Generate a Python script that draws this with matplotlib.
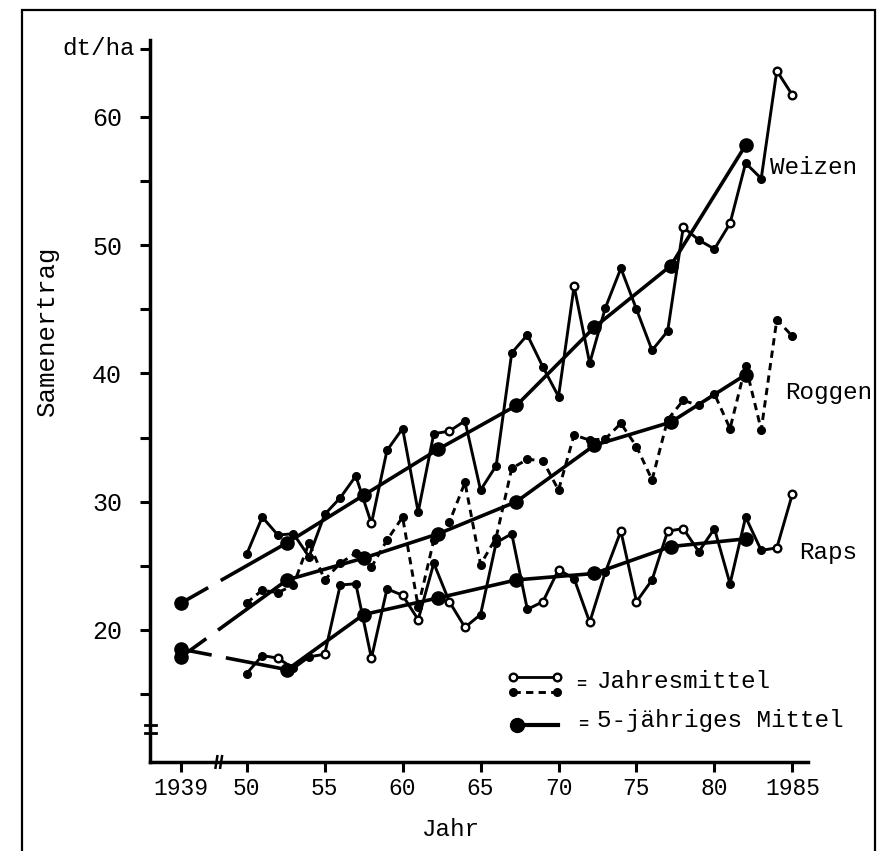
import numpy as np
import matplotlib
matplotlib.use("Agg")
import matplotlib.pyplot as plt
from matplotlib.patches import Rectangle

# yearly means (Jahresmittel), dt/ha
years = np.arange(1950, 1986)
weizen = [25.9, 28.8, 27.4, 27.5, 25.7, 29.0, 30.3, 32.0, 28.3, 34.0,
          35.7, 29.2, 35.3, 35.5, 36.3, 30.9, 32.8, 41.6, 43.0, 40.5,
          38.2, 46.8, 40.8, 45.1, 48.2, 45.0, 41.8, 43.3, 51.4, 50.4,
          49.7, 51.7, 56.4, 55.2, 63.6, 61.7]
roggen = [22.1, 23.1, 22.9, 23.5, 26.8, 23.9, 25.2, 26.0, 24.9, 27.0,
          28.8, 21.8, 27.0, 28.4, 31.5, 25.1, 27.2, 32.6, 33.3, 33.2,
          30.9, 35.2, 34.8, 34.9, 36.1, 34.3, 31.7, 36.4, 37.9, 37.5,
          38.4, 35.7, 40.6, 35.6, 44.2, 42.9]
raps = [16.6, 18.0, 17.8, 17.0, 17.9, 18.1, 23.5, 23.6, 17.8, 23.2,
        22.7, 20.8, 25.2, 22.2, 20.2, 21.2, 26.8, 27.5, 21.6, 22.2,
        24.7, 24.0, 20.6, 24.5, 27.7, 22.2, 23.9, 27.7, 27.9, 26.1,
        27.9, 23.6, 28.8, 26.2, 26.4, 30.6]

# 5-year means (5-jaehriges Mittel), as placed in the drawing
mean_years = [1939, 1952.6, 1957.5, 1962.3, 1967.3, 1972.3, 1977.2, 1982.0]
weizen_mean = [22.1, 26.8, 30.5, 34.1, 37.5, 43.6, 48.4, 57.8]
roggen_mean = [17.9, 23.9, 25.6, 27.5, 30.0, 34.4, 36.2, 39.9]
raps_mean = [18.5, 16.9, 21.2, 22.5, 23.9, 24.4, 26.5, 27.1]

# yearly points drawn as open circles
weizen_open = [1958, 1963, 1971, 1978, 1981, 1984, 1985]
raps_open = [1952, 1955, 1958, 1960, 1961, 1963, 1964, 1969, 1970, 1972,
             1974, 1975, 1977, 1978, 1984, 1985]

xtick_years = [1939, 1950, 1955, 1960, 1965, 1970, 1975, 1980, 1985]
xtick_labels = ["1939", "50", "55", "60", "65", "70", "75", "80", "1985"]
ytick_values = [15, 20, 25, 30, 35, 40, 45, 50, 55, 60, 65.3]
ytick_labels = ["", "20", "", "30", "", "40", "", "50", "", "60", ""]

X_1939 = 45.8   # 1939 sits left of the axis break


def xpos(y):
    y = np.asarray(y, dtype=float)
    return np.where(y < 1945, X_1939, y - 1900)


W, H = 881, 851


def fxy(px, py):
    return px / W, 1 - py / H


plt.rcParams['font.family'] = ['Liberation Mono', 'DejaVu Sans Mono']

fig = plt.figure(figsize=(W / 100, H / 100), dpi=100)
ax = fig.add_axes([150 / W, (H - 762) / H, 658 / W, 722 / H])
ax.set_xlim(43.8, 86.0)
ax.set_ylim(9.7, 66.0)

for s in ['top', 'right']:
    ax.spines[s].set_visible(False)
for s in ['left', 'bottom']:
    ax.spines[s].set_linewidth(2.5)

ax.set_xticks(xpos(xtick_years))
ax.set_xticklabels(xtick_labels)
ax.set_yticks(ytick_values)
ax.set_yticklabels(ytick_labels)
ax.tick_params(axis='x', direction='out', length=7, width=2.2, pad=4, labelsize=16.5)
ax.tick_params(axis='y', direction='out', length=7, width=2.2, pad=13, labelsize=18)

# axis breaks
for x0 in (48.0, 48.3):
    ax.plot([x0, x0 + 0.12], [-0.008, 0.008], transform=ax.get_xaxis_transform(),
            color='k', lw=1.8, clip_on=False)
for yb in (12.55, 11.95):
    ax.plot([-0.007, 0.009], [yb, yb], transform=ax.get_yaxis_transform(),
            color='k', lw=2, clip_on=False)

x = xpos(years)
dash_first = (0, (8.6, 4.0, 60, 0.1))

for vals, means, open_years, dashed in [(weizen, weizen_mean, weizen_open, False),
                                        (roggen, roggen_mean, [], True),
                                        (raps, raps_mean, raps_open, False)]:
    vals = np.array(vals)
    if dashed:
        ax.plot(x, vals, color='k', lw=2.1, ls=(0, (2.5, 1.8)), zorder=3)
    else:
        ax.plot(x, vals, color='k', lw=2.1, zorder=3)
    is_open = np.isin(years, open_years)
    ax.plot(x[~is_open], vals[~is_open], 'o', color='k', ms=5.5, zorder=4)
    ax.plot(x[is_open], vals[is_open], 'o', mfc='white', mec='k', mew=1.7,
            ms=5.5, zorder=4)

    mx = xpos(mean_years)
    ax.plot(mx[:2], means[:2], color='k', lw=2.6, ls=dash_first, zorder=3)
    ax.plot(mx[1:], means[1:], color='k', lw=2.6, zorder=3)
    ax.plot(mx, means, 'o', color='k', ms=9.5, zorder=5)

# unit label at the top of the y axis
ax.text(-0.023, 65.3, "dt/ha", transform=ax.get_yaxis_transform(),
        ha='right', va='center', fontsize=17.5)

# axis titles
fig.text(*fxy(47, 331), "Samenertrag", rotation=90, ha='center', va='center', fontsize=18.5)
fig.text(*fxy(451, 829), "Jahr", ha='center', va='center', fontsize=17.5)

# series names
fig.text(*fxy(770, 168), "Weizen", ha='left', va='center', fontsize=17.5)
fig.text(*fxy(785, 392), "Roggen", ha='left', va='center', fontsize=17.5)
fig.text(*fxy(799, 553), "Raps", ha='left', va='center', fontsize=17.5)

# hand-made legend
tf = fig.transFigure
lx0, lx1 = 512.7, 557.3
ax.plot([lx0 / W, lx1 / W], [1 - 677 / H] * 2, transform=tf, color='k', lw=2,
        marker='o', mfc='white', mec='k', mew=1.7, ms=5.5, clip_on=False)
ax.plot([lx0 / W, lx1 / W], [1 - 691.7 / H] * 2, transform=tf, color='k', lw=2.1,
        ls=(0, (2.5, 1.8)), marker='o', ms=5.5, clip_on=False)
ax.plot([517 / W, 558 / W], [1 - 725 / H] * 2, transform=tf, color='k', lw=3,
        clip_on=False)
ax.plot([517 / W], [1 - 725 / H], transform=tf, color='k', marker='o', ms=10,
        clip_on=False)
fig.text(*fxy(581, 685), "=", ha='center', va='center', fontsize=12, fontweight='bold')
fig.text(*fxy(583, 724), "=", ha='center', va='center', fontsize=12, fontweight='bold')
fig.text(*fxy(597, 682), "Jahresmittel", ha='left', va='center', fontsize=17.5)
fig.text(*fxy(597, 721), "5-jähriges Mittel", ha='left', va='center', fontsize=17.5)

# frame around the whole figure
fig.add_artist(Rectangle((22 / W, -0.05), (875 - 22) / W, 1 - 10 / H + 0.05,
                         transform=tf, fill=False, lw=1.6, ec='k', clip_on=False))

fig.savefig("out.png", dpi=100)
